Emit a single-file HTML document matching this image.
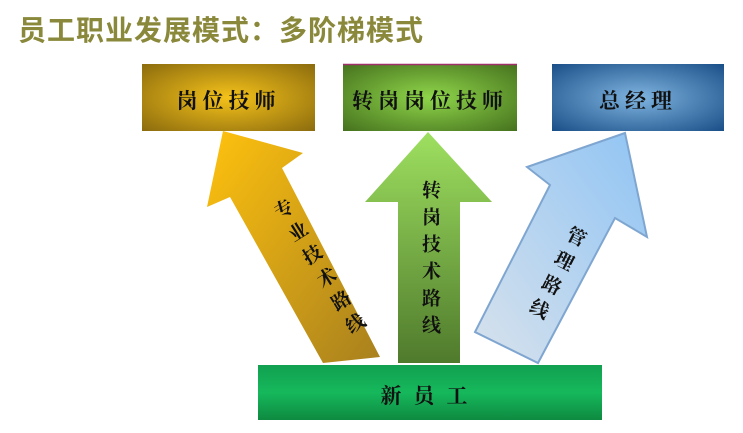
<!DOCTYPE html>
<html><head><meta charset="utf-8"><style>
body{margin:0;width:743px;height:433px;background:#fff;overflow:hidden;position:relative;font-family:"Liberation Serif","Noto Serif CJK SC",serif}
.t{position:absolute;left:18px;top:9px;font:bold 28px "Liberation Sans","Noto Sans CJK SC",sans-serif;color:#8a883a;letter-spacing:1px}
.lbl{position:absolute;font-size:21px;color:#111;text-align:center;letter-spacing:5px;font-family:"Noto Serif CJK SC",serif;font-weight:bold}
.v{position:absolute;writing-mode:vertical-rl;font-size:19px;letter-spacing:8px;color:#111;font-family:"Noto Serif CJK SC",serif;font-weight:bold}
</style></head><body>
<div class="t">员工职业发展模式：多阶梯模式</div>
<svg width="743" height="433" style="position:absolute;left:0;top:0">
<defs>
<radialGradient id="gy" cx="50%" cy="50%" r="70%"><stop offset="0" stop-color="#f5c21a"/><stop offset="1" stop-color="#8c6c0e"/></radialGradient>
<radialGradient id="gg" cx="50%" cy="50%" r="70%"><stop offset="0" stop-color="#8fd64a"/><stop offset="1" stop-color="#46721e"/></radialGradient>
<radialGradient id="gb" cx="50%" cy="50%" r="70%"><stop offset="0" stop-color="#7fb4e0"/><stop offset="1" stop-color="#1a5088"/></radialGradient>
<linearGradient id="gn" x1="0" y1="0" x2="0" y2="1"><stop offset="0" stop-color="#11a050"/><stop offset="0.5" stop-color="#16b85c"/><stop offset="1" stop-color="#0e8a40"/></linearGradient>
<linearGradient id="ay" x1="0" y1="0" x2="1" y2="1"><stop offset="0" stop-color="#ffc20e"/><stop offset="1" stop-color="#a8801e"/></linearGradient>
<linearGradient id="ag" x1="0" y1="0" x2="0" y2="1"><stop offset="0" stop-color="#9ee060"/><stop offset="1" stop-color="#4f7a2c"/></linearGradient>
<linearGradient id="ab" x1="1" y1="0" x2="0" y2="1"><stop offset="0" stop-color="#90c4f4"/><stop offset="1" stop-color="#d8e2ec"/></linearGradient>
</defs>
<rect x="142" y="64" width="173" height="67" fill="url(#gy)"/>
<rect x="343" y="64" width="174" height="67" fill="url(#gg)"/>
<line x1="343" y1="64.5" x2="517" y2="64.5" stroke="#a0306a" stroke-width="1.5"/>
<rect x="552" y="64" width="172" height="67" fill="url(#gb)"/>
<polygon points="223,131 303,153 282,168 380,357 323,363 230,197 207,207" fill="url(#ay)"/>
<polygon points="428,132 492,202 460,202 460,363 398,363 398,202 365,202" fill="url(#ag)"/>
<polygon points="625,133 647,237 615,218 538,363 475,332 550,185 527,167" fill="url(#ab)" stroke="#7fa6d0" stroke-width="2"/>
<rect x="258" y="365" width="344" height="55" fill="url(#gn)"/>
</svg>
<div class="lbl" style="left:142px;top:85px;width:173px">岗位技师</div>
<div class="lbl" style="left:343px;top:85px;width:174px">转岗岗位技师</div>
<div class="lbl" style="left:552px;top:85px;width:172px">总经理</div>
<div class="lbl" style="left:258px;top:380px;width:344px;letter-spacing:12px">新员工</div>
<div class="v" style="left:418px;top:180px">转岗技术路线</div>
<div class="v" style="left:308px;top:188px;transform:rotate(-32deg)">专业技术路线</div>
<div class="v" style="left:543px;top:222px;transform:rotate(27deg)">管理路线</div>
</body></html>
